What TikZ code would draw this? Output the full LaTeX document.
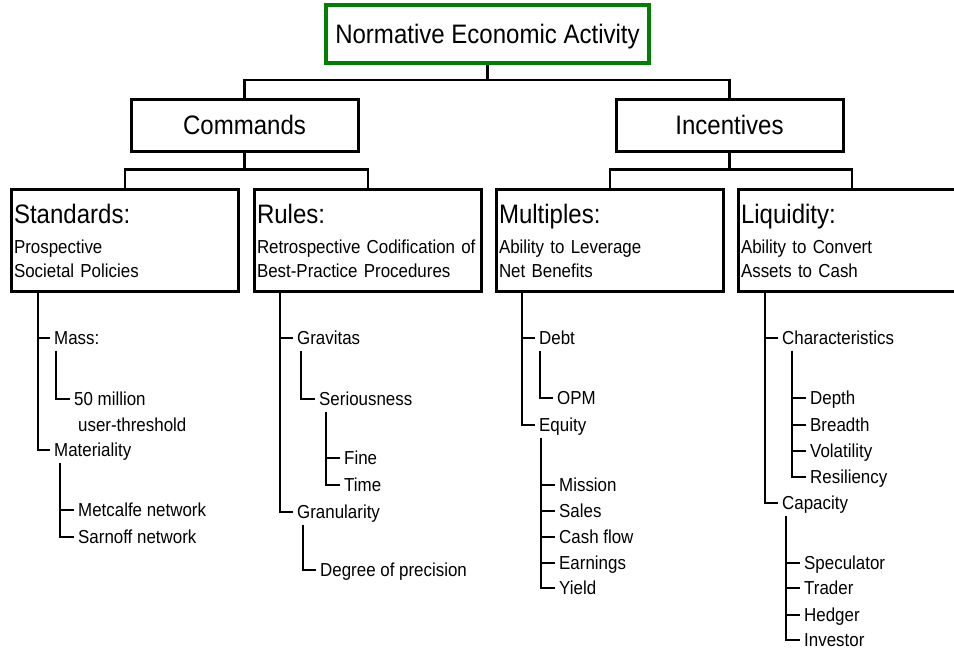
\documentclass[tikz,border=0pt]{standalone}
\usepackage{fontspec}
\setmainfont{Liberation Sans}[FakeStretch=0.9]
\usepackage{tikz}
\usetikzlibrary{positioning}
\definecolor{titlegreen}{RGB}{0,128,0}
\newcommand{\hdsize}{\fontsize{26.7}{27}\selectfont}
\newcommand{\lfsize}{\fontsize{18.8}{24}\selectfont}

\begin{document}
\begin{tikzpicture}[x=1pt, y=-1pt,
    topbox/.style={rectangle, draw=titlegreen, line width=4pt, minimum width=323pt, minimum height=58pt, font=\hdsize, text height=19pt, text depth=0pt},
    groupbox/.style={rectangle, draw, line width=3pt, minimum width=227pt, minimum height=52pt, font=\hdsize, text height=19pt, text depth=0pt},
    catbox/.style={rectangle, draw, line width=3pt, anchor=north west, text width=222pt, inner xsep=2.5pt, minimum height=102pt, align=left, font=\lfsize, text height=22pt, text depth=56pt},
    leaf/.style={anchor=west, inner xsep=4pt, inner ysep=2pt, font=\lfsize, text height=17.5pt, text depth=4pt},
    tree/.style={line width=2.8pt}
]
\useasboundingbox (0,0) rectangle (954,651);

% top levels
\node[topbox] (nea) at (487.5,34) {Normative Economic Activity};
\node[groupbox] (cmd) at (244.5,125) {Commands};
\node[groupbox] (inc) at (729.5,125) {Incentives};

\node[catbox] (std) at (10,188) {{\hdsize Standards:}\\[6pt]Prospective\\Societal Policies};
\node[catbox] (rul) at (253,188) {{\hdsize Rules:}\\[6pt]Retrospective Codification of\\Best-Practice Procedures};
\node[catbox] (mul) at (495,188) {{\hdsize Multiples:}\\[6pt]Ability to Leverage\\Net Benefits};
\node[catbox] (liq) at (737,188) {{\hdsize Liquidity:}\\[6pt]Ability to Convert\\Assets to Cash};

\draw[tree] (nea.south) -- ++(0,15) -| (cmd.north);
\draw[tree] (nea.south) -- ++(0,15) -| (inc.north);
\draw[tree] (cmd.south) -- ++(0,17) -| (std.north);
\draw[tree] (cmd.south) -- ++(0,17) -| (rul.north);
\draw[tree] (inc.south) -- ++(0,17) -| (mul.north);
\draw[tree] (inc.south) -- ++(0,17) -| (liq.north);

% standards
\node[leaf] (mass) at (50,338) {Mass:};
\node[leaf] (fifty) at (70,399) {50 million};
\node[leaf] (thresh) at (74,425) {user-threshold};
\node[leaf] (mater) at (50,450) {Materiality};
\node[leaf] (metcalfe) at (74,510) {Metcalfe network};
\node[leaf] (sarnoff) at (74,537) {Sarnoff network};

\draw[tree] ([xshift=28pt]std.south west) |- (mass.west);
\draw[tree] ([xshift=28pt]std.south west) |- (mater.west);
\draw[tree] ([xshift=6pt]mass.south west) |- (fifty.west);
\draw[tree] ([xshift=10pt]mater.south west) |- (metcalfe.west);
\draw[tree] ([xshift=10pt]mater.south west) |- (sarnoff.west);

% rules
\node[leaf] (grav) at (293,338) {Gravitas};
\node[leaf] (serious) at (315,399) {Seriousness};
\node[leaf] (fine) at (340,458) {Fine};
\node[leaf] (time) at (340,485) {Time};
\node[leaf] (gran) at (293,512) {Granularity};
\node[leaf] (precision) at (316,570) {Degree of precision};

\draw[tree] ([xshift=27pt]rul.south west) |- (grav.west);
\draw[tree] ([xshift=27pt]rul.south west) |- (gran.west);
\draw[tree] ([xshift=8pt]grav.south west) |- (serious.west);
\draw[tree] ([xshift=11pt]serious.south west) |- (fine.west);
\draw[tree] ([xshift=11pt]serious.south west) |- (time.west);
\draw[tree] ([xshift=10pt]gran.south west) |- (precision.west);

% multiples
\node[leaf] (debt) at (535,338) {Debt};
\node[leaf] (opm) at (553,398) {OPM};
\node[leaf] (equity) at (535,425) {Equity};
\node[leaf] (mission) at (555,485) {Mission};
\node[leaf] (sales) at (555,511) {Sales};
\node[leaf] (cashflow) at (555,537) {Cash flow};
\node[leaf] (earnings) at (555,563) {Earnings};
\node[leaf] (yield) at (555,588) {Yield};

\draw[tree] ([xshift=27pt]mul.south west) |- (debt.west);
\draw[tree] ([xshift=27pt]mul.south west) |- (equity.west);
\draw[tree] ([xshift=5pt]debt.south west) |- (opm.west);
\draw[tree] ([xshift=6pt]equity.south west) |- (mission.west);
\draw[tree] ([xshift=6pt]equity.south west) |- (sales.west);
\draw[tree] ([xshift=6pt]equity.south west) |- (cashflow.west);
\draw[tree] ([xshift=6pt]equity.south west) |- (earnings.west);
\draw[tree] ([xshift=6pt]equity.south west) |- (yield.west);

% liquidity
\node[leaf] (charact) at (778,338) {Characteristics};
\node[leaf] (depth) at (806,398) {Depth};
\node[leaf] (breadth) at (806,425) {Breadth};
\node[leaf] (volat) at (806,451) {Volatility};
\node[leaf] (resil) at (806,477) {Resiliency};
\node[leaf] (capac) at (778,503) {Capacity};
\node[leaf] (specul) at (800,563) {Speculator};
\node[leaf] (trader) at (800,588) {Trader};
\node[leaf] (hedger) at (800,615) {Hedger};
\node[leaf] (investor) at (800,640) {Investor};

\draw[tree] ([xshift=28pt]liq.south west) |- (charact.west);
\draw[tree] ([xshift=28pt]liq.south west) |- (capac.west);
\draw[tree] ([xshift=14pt]charact.south west) |- (depth.west);
\draw[tree] ([xshift=14pt]charact.south west) |- (breadth.west);
\draw[tree] ([xshift=14pt]charact.south west) |- (volat.west);
\draw[tree] ([xshift=14pt]charact.south west) |- (resil.west);
\draw[tree] ([xshift=8pt]capac.south west) |- (specul.west);
\draw[tree] ([xshift=8pt]capac.south west) |- (trader.west);
\draw[tree] ([xshift=8pt]capac.south west) |- (hedger.west);
\draw[tree] ([xshift=8pt]capac.south west) |- (investor.west);

\end{tikzpicture}
\end{document}
